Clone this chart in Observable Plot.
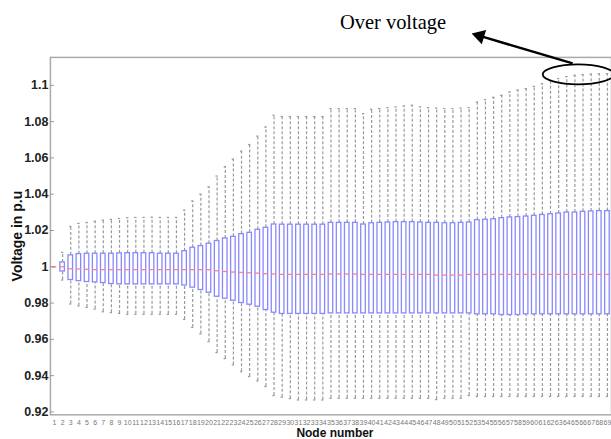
<!DOCTYPE html>
<html>
<head>
<meta charset="utf-8">
<script src="https://cdn.jsdelivr.net/npm/d3@7"></script>
<script src="https://cdn.jsdelivr.net/npm/@observablehq/plot@0.6"></script>
<style>
html, body { margin: 0; padding: 0; background: #fff; overflow: hidden; width: 611px; height: 439px; }
#chart svg { display: block; }
</style>
</head>
<body>
<div id="chart"></div>
<script>
// Node numbers (categories)
const nodes = [1,2,3,4,5,6,7,8,9,10,11,12,13,14,15,16,17,18,19,20,21,22,23,24,25,26,27,28,29,30,31,32,33,34,35,36,37,38,39,40,41,42,43,44,45,46,47,48,49,50,51,52,53,54,55,56,57,58,59,60,61,62,63,64,65,66,67,68,69];

// Upper whisker end (p.u)
const whiskerHigh = [1.0000,1.0079,1.0222,1.0239,1.0244,1.0251,1.0257,1.0261,1.0266,1.0270,1.0272,1.0272,1.0273,1.0272,1.0272,1.0272,1.0312,1.0362,1.0400,1.0440,1.0500,1.0552,1.0593,1.0637,1.0674,1.0720,1.0770,1.0835,1.0828,1.0828,1.0828,1.0828,1.0828,1.0828,1.0872,1.0872,1.0872,1.0872,1.0844,1.0868,1.0872,1.0877,1.0881,1.0886,1.0890,1.0881,1.0877,1.0875,1.0872,1.0872,1.0875,1.0877,1.0908,1.0921,1.0934,1.0945,1.0963,1.0974,1.0982,1.0994,1.1009,1.1026,1.1037,1.1048,1.1055,1.1059,1.1062,1.1064,1.1064];

// Upper quartile (p.u)
const upperQuartile = [1.0000,1.0024,1.0063,1.0070,1.0072,1.0072,1.0072,1.0072,1.0074,1.0075,1.0075,1.0075,1.0075,1.0072,1.0072,1.0072,1.0086,1.0105,1.0114,1.0127,1.0142,1.0156,1.0165,1.0180,1.0187,1.0204,1.0215,1.0233,1.0232,1.0232,1.0232,1.0232,1.0232,1.0232,1.0242,1.0242,1.0242,1.0242,1.0233,1.0240,1.0242,1.0244,1.0246,1.0246,1.0246,1.0244,1.0242,1.0242,1.0240,1.0240,1.0242,1.0244,1.0257,1.0259,1.0262,1.0268,1.0272,1.0274,1.0277,1.0281,1.0286,1.0290,1.0294,1.0299,1.0299,1.0303,1.0305,1.0307,1.0307];

// Median (p.u)
const median = [1.0000,1.0000,0.9989,0.9988,0.9986,0.9984,0.9984,0.9984,0.9984,0.9984,0.9984,0.9984,0.9984,0.9984,0.9984,0.9984,0.9984,0.9984,0.9984,0.9984,0.9978,0.9974,0.9971,0.9969,0.9967,0.9965,0.9962,0.9960,0.9958,0.9958,0.9958,0.9958,0.9958,0.9958,0.9960,0.9960,0.9960,0.9960,0.9958,0.9958,0.9958,0.9958,0.9958,0.9958,0.9958,0.9958,0.9958,0.9954,0.9954,0.9954,0.9954,0.9958,0.9958,0.9958,0.9958,0.9958,0.9958,0.9958,0.9958,0.9958,0.9958,0.9958,0.9958,0.9958,0.9958,0.9958,0.9958,0.9958,0.9958];

// Lower quartile (p.u)
const lowerQuartile = [1.0000,0.9974,0.9927,0.9921,0.9916,0.9914,0.9910,0.9905,0.9903,0.9903,0.9903,0.9903,0.9903,0.9903,0.9903,0.9903,0.9897,0.9885,0.9872,0.9857,0.9835,0.9824,0.9813,0.9800,0.9791,0.9780,0.9762,0.9747,0.9740,0.9740,0.9740,0.9740,0.9740,0.9740,0.9743,0.9743,0.9743,0.9743,0.9743,0.9743,0.9743,0.9743,0.9743,0.9743,0.9743,0.9743,0.9743,0.9743,0.9743,0.9743,0.9743,0.9743,0.9738,0.9738,0.9738,0.9734,0.9734,0.9734,0.9738,0.9738,0.9738,0.9738,0.9738,0.9738,0.9738,0.9738,0.9738,0.9738,0.9738];

// Lower whisker end (p.u)
const whiskerLow = [1.0000,0.9927,0.9795,0.9784,0.9776,0.9767,0.9752,0.9747,0.9743,0.9738,0.9738,0.9738,0.9738,0.9738,0.9738,0.9738,0.9710,0.9666,0.9630,0.9587,0.9527,0.9494,0.9459,0.9422,0.9395,0.9371,0.9340,0.9290,0.9281,0.9273,0.9266,0.9266,0.9266,0.9266,0.9275,0.9275,0.9275,0.9275,0.9275,0.9275,0.9275,0.9275,0.9275,0.9275,0.9275,0.9275,0.9275,0.9268,0.9275,0.9275,0.9275,0.9290,0.9285,0.9285,0.9285,0.9285,0.9285,0.9285,0.9285,0.9285,0.9285,0.9285,0.9285,0.9285,0.9285,0.9285,0.9285,0.9285,0.9285];

// Y tick values
const yTicks = [0.92,0.94,0.96,0.98,1.00,1.02,1.04,1.06,1.08,1.10];

// Text
const yLabel = ["Voltage in p.u"];
const xLabel = ["Node number"];
const noteText = ["Over voltage"];

// Annotation anchor points (in data units: node, p.u)
const notePos = [{x: 36.1, y: 1.1308}];
const arrowLine = [{x1: 64.72, y1: 1.1121, x2: 53.31, y2: 1.12724}];
const arrowHead = [{x: 53.31, y: 1.12724}];
const ellipseCenter = [{x: 65.4, y: 1.10605}];

const data = nodes.map((n, i) => ({
  node: n, hi: whiskerHigh[i], q3: upperQuartile[i], med: median[i], q1: lowerQuartile[i], lo: whiskerLow[i]
}));

const hw = 0.28;  // half box width (node units)
const cw = 0.14;  // half cap width

const ellipseSymbol = {
  draw(ctx) {
    const rx = 35.5, ry = 10, k = 0.5523;
    ctx.moveTo(rx, 0);
    ctx.bezierCurveTo(rx, ry * k, rx * k, ry, 0, ry);
    ctx.bezierCurveTo(-rx * k, ry, -rx, ry * k, -rx, 0);
    ctx.bezierCurveTo(-rx, -ry * k, -rx * k, -ry, 0, -ry);
    ctx.bezierCurveTo(rx * k, -ry, rx, -ry * k, rx, 0);
    ctx.closePath();
  }
};

const W = 612, ML = 50;
const whiskerColor = "#9a9a9a";

const chart = Plot.plot({
  width: W,
  height: 439,
  marginLeft: ML,
  marginRight: 0,
  marginTop: 57,
  marginBottom: 24,
  style: { fontFamily: "'Liberation Sans', Arial, sans-serif", background: "white", overflow: "visible" },
  x: { domain: [0.5, 69.5] },
  y: { domain: [0.9184, 1.1154] },
  marks: [
    Plot.ruleX(data, { x: "node", y1: "q3", y2: "hi", stroke: whiskerColor, strokeWidth: 1.2, strokeDasharray: "3,2" }),
    Plot.ruleX(data, { x: "node", y1: "lo", y2: "q1", stroke: whiskerColor, strokeWidth: 1.2, strokeDasharray: "3,2" }),
    Plot.ruleY(data, { x1: d => d.node - cw, x2: d => d.node + cw, y: "hi", stroke: whiskerColor, strokeWidth: 1.2 }),
    Plot.ruleY(data, { x1: d => d.node - cw, x2: d => d.node + cw, y: "lo", stroke: whiskerColor, strokeWidth: 1.2 }),
    Plot.rect(data, { x1: d => d.node - hw, x2: d => d.node + hw, y1: "q1", y2: "q3", fill: "white", stroke: "#8888ff", strokeWidth: 1.3 }),
    Plot.ruleY(data, { x1: d => d.node - hw, x2: d => d.node + hw, y: "med", stroke: "#ff8080", strokeWidth: 1.3 }),
    Plot.frame({ stroke: "#aaaaaa", strokeWidth: 1.5 }),
    Plot.tickY(yTicks, { y: d => d, insetRight: W - ML - 4, stroke: "#999" }),
    Plot.axisY({ ticks: yTicks, tickFormat: d => String(+d.toFixed(2)), tickSize: 0, tickPadding: 2, fontSize: 12.5, fontWeight: "bold", fill: "#222", label: null }),
    Plot.axisX({ ticks: nodes, tickFormat: d => String(d), tickSize: 0, tickPadding: 5, fontSize: 7, fill: "#777", label: null }),
    Plot.text(yLabel, { text: d => d, frameAnchor: "left", textAnchor: "middle", lineAnchor: "middle", rotate: -90, dx: -33, fontSize: 14, fontWeight: "bold", fill: "#111" }),
    Plot.text(xLabel, { text: d => d, frameAnchor: "bottom", textAnchor: "middle", lineAnchor: "middle", dx: 4, dy: 18, fontSize: 12, fontWeight: "bold", fill: "#111" }),
    Plot.text(noteText, { text: d => d, x: () => notePos[0].x, y: () => notePos[0].y, textAnchor: "start", lineAnchor: "bottom", fontFamily: "'Liberation Serif', 'Times New Roman', serif", fontSize: 20.5, fill: "black" }),
    Plot.link(arrowLine, { x1: "x1", y1: "y1", x2: "x2", y2: "y2", stroke: "black", strokeWidth: 2.5 }),
    Plot.dot(arrowHead, { x: "x", y: "y", symbol: "triangle", r: 5.5, fill: "black", stroke: "none", rotate: -73 }),
    Plot.dot(ellipseCenter, { x: "x", y: "y", symbol: ellipseSymbol, r: 5, fill: "none", stroke: "black", strokeWidth: 1.8 })
  ]
});

document.getElementById("chart").appendChild(chart);
</script>
</body>
</html>
